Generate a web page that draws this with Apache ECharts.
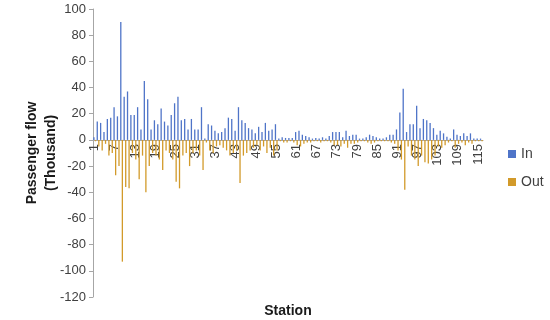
<!DOCTYPE html>
<html><head><meta charset="utf-8">
<script src="https://cdn.jsdelivr.net/npm/echarts@6/dist/echarts.min.js"></script>
<style>html,body{margin:0;padding:0;background:#fff}#c{width:550px;height:320px}</style>
</head><body><div id="c"></div>
<script>
var stations = [];
for (var i = 1; i <= 116; i++) stations.push(String(i));
var inFlow = [2,14,13,6,16,17,25,18,90,33,37,19,19,25,8,45,31,8,15,12,24,14,11,19,28,33,15,16,8,16,
  8,8,25,1,12,11,7,5,6,9,17,16,7,25,15,13,9,8,5,10,6,13,7,8,12,1,2,1.5,1.5,1.5,
  6,7,4,3,2,1,1.5,1,2,1,3,6,6,6,2,7,3,4,4,1,1,2,4,3,2,1,1,2,4,4,
  8,21,39,6,12,12,26,9,16,15,13,9,4,7,5,2.5,1,8,4,3,5,3,5,1,1,1];
var outFlow = [-1,-5,-8,-3,-12,-10,-27,-20,-93,-36,-37,-10,-15,-30,-12,-40,-20,-10,-12,-15,-23,-8,-10,-15,-32,-37,-12,-10,-20,-10,
  -8,-12,-23,-2,-8,-10,-5,-4,-6,-8,-12,-10,-8,-33,-12,-10,-8,-6,-4,-8,-5,-10,-6,-12,-8,-1,-2,-2,-1,-2,
  -4,-5,-3,-2,-2,-1,-1,-2,-1,-1,-2,-4,-4,-5,-3,-6,-3,-3,-2,-1,-1,-2,-3,-2,-1,-1,-1,-1,-2,-3,
  -8,-15,-38,-5,-12,-15,-20,-12,-17,-18,-15,-12,-5,-6,-4,-2,-1,-6,-3,-2,-4,-2,-3,-1,-1,-1];
var seriesNames = ['In', 'Out'];

var chart = echarts.init(document.getElementById('c'));
chart.setOption({
  animation: false,
  textStyle: {fontFamily: 'Liberation Sans, Arial, sans-serif'},
  grid: {left: 93, right: 67, top: 9, bottom: 23, containLabel: false, outerBoundsMode: 'none'},
  legend: {
    orient: 'vertical', left: 503, top: 142, itemWidth: 8, itemHeight: 8, itemGap: 14,
    icon: 'rect',
    textStyle: {fontSize: 14, color: '#404040', fontFamily: 'Liberation Sans, Arial, sans-serif'},
    data: seriesNames
  },
  xAxis: {
    type: 'category', data: stations, position: 'bottom', offset: -157,
    name: 'Station', nameLocation: 'middle', nameGap: 164, nameMoveOverlap: false,
    nameTextStyle: {fontSize: 14, fontWeight: 'bold', color: '#1a1a1a', fontFamily: 'Liberation Sans, Arial, sans-serif'},
    axisLine: {onZero: false, lineStyle: {color: '#A6A6A6'}},
    axisTick: {interval: 0, length: 3, lineStyle: {color: '#A6A6A6'}},
    axisLabel: {interval: 5, rotate: 90, fontSize: 13, color: '#404040', margin: 4}
  },
  yAxis: {
    type: 'value', min: -120, max: 100, interval: 20,
    name: 'Passenger flow\n(Thousand)', nameLocation: 'middle', nameGap: 32, nameMoveOverlap: false,
    nameTextStyle: {fontSize: 14, fontWeight: 'bold', color: '#1a1a1a', lineHeight: 19, fontFamily: 'Liberation Sans, Arial, sans-serif'},
    axisLine: {show: true, lineStyle: {color: '#A6A6A6'}},
    axisTick: {show: true, length: 4, lineStyle: {color: '#A6A6A6'}},
    axisLabel: {fontSize: 13, color: '#404040', margin: 7},
    splitLine: {show: false}
  },
  series: [
    {name: seriesNames[0], type: 'bar', data: inFlow, barWidth: 1.3, barGap: '20%', itemStyle: {color: '#4F74C8'}},
    {name: seriesNames[1], type: 'bar', data: outFlow, barWidth: 1.3, itemStyle: {color: '#D29A2A'}}
  ]
});
</script></body></html>
